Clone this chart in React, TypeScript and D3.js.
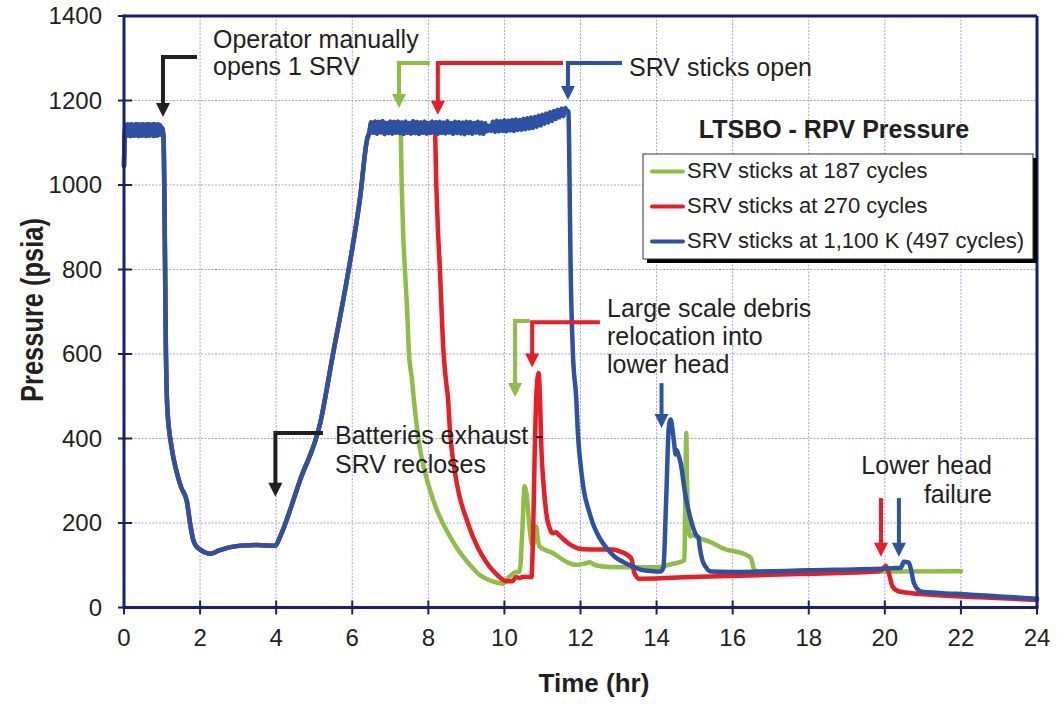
import React from "react";
import * as d3 from "d3";

type Pt = [number, number];

// ---- data (time in hours, pressure in psia) ----
const sharedStart: Pt[] = [
  [0, 1045], [0.025, 1128], [0.05, 1142], [0.075, 1117], [0.1, 1143], [0.125, 1118], [0.15, 1142],
  [0.175, 1116], [0.2, 1144], [0.225, 1118], [0.25, 1141], [0.275, 1117], [0.3, 1143], [0.325, 1119],
  [0.35, 1144], [0.375, 1116], [0.4, 1142], [0.425, 1118], [0.45, 1143], [0.475, 1117], [0.5, 1144],
  [0.525, 1119], [0.55, 1142], [0.575, 1116], [0.6, 1143], [0.625, 1118], [0.65, 1144], [0.675, 1117],
  [0.7, 1142], [0.725, 1119], [0.75, 1143], [0.775, 1116], [0.8, 1144], [0.825, 1118], [0.85, 1142],
  [0.875, 1117], [0.9, 1143], [0.925, 1119], [0.95, 1141], [0.975, 1122], [1.0, 1135],
  [1.04, 1110], [1.07, 900], [1.1, 620], [1.14, 470], [1.25, 380], [1.39, 319],
  [1.5, 285], [1.65, 252], [1.75, 192], [1.82, 160], [1.9, 145], [2.0, 137], [2.2, 128],
  [2.26, 127], [2.5, 135], [2.8, 143], [3.13, 147], [3.5, 148], [3.98, 146], [4.1, 167],
  [4.63, 302], [5.16, 437], [5.5, 603], [5.86, 776], [6.21, 973], [6.39, 1108], [6.45, 1125],
  [6.5, 1148], [6.55, 1124], [6.6, 1150], [6.65, 1122], [6.7, 1149], [6.75, 1125], [6.8, 1151],
  [6.85, 1121], [6.9, 1147], [6.95, 1123], [7.0, 1150], [7.05, 1122], [7.1, 1149], [7.15, 1124],
  [7.2, 1150],
];
const bandToRed: Pt[] = [
  [7.25, 1123], [7.3, 1148], [7.35, 1121], [7.4, 1150], [7.45, 1124], [7.5, 1147], [7.55, 1122],
  [7.6, 1151], [7.65, 1123], [7.7, 1149], [7.75, 1121], [7.8, 1148], [7.85, 1124], [7.9, 1150],
  [7.95, 1122], [8.0, 1147], [8.05, 1123], [8.1, 1150], [8.15, 1124],
];
const bandToBlue: Pt[] = [
  [8.2, 1149], [8.25, 1121], [8.3, 1150], [8.35, 1123], [8.4, 1148], [8.45, 1122], [8.5, 1151],
  [8.55, 1124], [8.6, 1147], [8.65, 1121], [8.7, 1150], [8.75, 1123], [8.8, 1149], [8.85, 1122],
  [8.9, 1148], [8.95, 1120], [9.0, 1150], [9.05, 1123], [9.1, 1149], [9.15, 1121], [9.2, 1147],
  [9.25, 1124], [9.3, 1150], [9.35, 1122], [9.4, 1148], [9.45, 1121], [9.5, 1146], [9.55, 1127],
  [9.6, 1140], [9.65, 1128], [9.7, 1150], [9.75, 1126], [9.8, 1152], [9.85, 1127], [9.9, 1151],
  [9.95, 1128], [10.0, 1153], [10.05, 1127], [10.1, 1152], [10.15, 1129], [10.2, 1154],
  [10.25, 1128], [10.3, 1155], [10.35, 1130], [10.4, 1154], [10.45, 1131], [10.5, 1157],
  [10.55, 1132], [10.6, 1158], [10.65, 1134], [10.7, 1160], [10.75, 1135], [10.8, 1161],
  [10.85, 1138], [10.9, 1164], [10.95, 1141], [11.0, 1166], [11.05, 1145], [11.1, 1169],
  [11.15, 1148], [11.2, 1172], [11.25, 1152], [11.3, 1175], [11.35, 1156], [11.4, 1178],
  [11.45, 1160], [11.5, 1181], [11.55, 1163], [11.6, 1182], [11.65, 1172],
];
const greenTail: Pt[] = [
  [7.27, 1135], [7.3, 1000], [7.34, 880], [7.38, 808], [7.45, 690], [7.49, 603], [7.57, 540],
  [7.62, 492], [7.77, 381], [7.9, 325], [8.04, 279], [8.25, 225], [8.47, 184], [8.7, 148],
  [8.91, 121], [9.1, 100], [9.35, 77], [9.6, 65], [9.8, 59], [9.96, 56], [10.09, 70],
  [10.2, 78], [10.27, 83], [10.4, 85], [10.47, 180], [10.53, 287], [10.58, 270], [10.65, 200],
  [10.72, 150], [10.76, 148], [10.8, 178], [10.84, 192], [10.88, 160], [10.92, 145],
  [11.1, 135], [11.27, 129], [11.5, 115], [11.7, 105], [11.89, 101], [12.1, 104], [12.24, 107],
  [12.4, 100], [12.76, 96], [13.5, 95], [14.07, 96], [14.4, 103], [14.73, 111], [14.76, 300],
  [14.78, 413], [14.8, 300], [14.86, 175], [14.89, 168], [14.95, 171], [15.1, 165],
  [15.39, 156], [15.83, 137], [16.1, 132], [16.35, 125], [16.48, 117], [16.57, 89], [16.7, 85],
  [19, 84], [20, 85], [22, 86],
];
const redTail: Pt[] = [
  [8.17, 1135], [8.21, 1000], [8.25, 900], [8.3, 808], [8.4, 603], [8.46, 540], [8.52, 492],
  [8.56, 430], [8.7, 320], [8.82, 263], [9.0, 210], [9.17, 168], [9.4, 125], [9.61, 97],
  [9.8, 78], [10.05, 62], [10.2, 62], [10.31, 72], [10.4, 70], [10.5, 73], [10.71, 72],
  [10.76, 200], [10.8, 380], [10.85, 520], [10.9, 555], [10.94, 480], [10.97, 381],
  [11.03, 290], [11.1, 224], [11.2, 185], [11.27, 176], [11.35, 178], [11.45, 170],
  [11.71, 150], [12.06, 138], [12.5, 137], [12.85, 137], [13.03, 133], [13.33, 117],
  [13.42, 81], [13.55, 68], [15.13, 73], [17.75, 79], [19.85, 86], [19.95, 92], [20.03, 99],
  [20.11, 80], [20.2, 50], [20.38, 38], [21.24, 30], [22.5, 24], [24, 18],
];
const blueTail: Pt[] = [
  [11.68, 1175], [11.7, 1100], [11.72, 950], [11.74, 808], [11.8, 603], [11.89, 492],
  [11.93, 414], [12.0, 340], [12.1, 271], [12.2, 235], [12.36, 191], [12.5, 165], [12.72, 137],
  [12.9, 120], [13.16, 106], [13.4, 96], [13.6, 89], [13.9, 86], [14.1, 85], [14.18, 95],
  [14.25, 250], [14.32, 425], [14.37, 445], [14.42, 420], [14.46, 390], [14.5, 362],
  [14.53, 372], [14.56, 365], [14.63, 343], [14.75, 270], [14.9, 208], [15.05, 170],
  [15.1, 166], [15.14, 140], [15.2, 113], [15.3, 95], [15.42, 85], [16, 84], [18, 88],
  [20.2, 93], [20.42, 94], [20.5, 108], [20.63, 106], [20.7, 85], [20.76, 59], [20.95, 38],
  [21.5, 34], [22.18, 31], [23, 26], [24, 21],
];

const seriesNames = [
  "SRV sticks at 187 cycles",
  "SRV sticks at 270 cycles",
  "SRV sticks at 1,100 K (497 cycles)",
];
const xTicks = [0, 2, 4, 6, 8, 10, 12, 14, 16, 18, 20, 22, 24];
const yTicks = [0, 200, 400, 600, 800, 1000, 1200, 1400];

const greenData = [...sharedStart, ...greenTail];
const redData = [...sharedStart, ...bandToRed, ...redTail];
const blueData = [...sharedStart, ...bandToRed, ...bandToBlue, ...blueTail];

const COLORS = ["#8fbe45", "#ec1c24", "#2e52a3"];
const NAVY = "#1b1f6e";
const TXT = "#231f20";
const FONT = "'Liberation Sans', Arial, Helvetica, sans-serif";

// arrow geometry in data coordinates (polyline ending at tip)
const arrows: { color: string; pts: Pt[] }[] = [
  { color: TXT, pts: [[1.92, 1303], [1.025, 1303], [1.025, 1161]] },
  { color: TXT, pts: [[5.23, 413], [3.98, 413], [3.98, 262]] },
  { color: COLORS[0], pts: [[8.04, 1289], [7.23, 1289], [7.23, 1182]] },
  { color: COLORS[1], pts: [[11.54, 1289], [8.25, 1289], [8.25, 1166]] },
  { color: COLORS[2], pts: [[13.09, 1289], [11.67, 1289], [11.67, 1201]] },
  { color: COLORS[0], pts: [[10.67, 678], [10.28, 678], [10.28, 498]] },
  { color: COLORS[1], pts: [[12.51, 675], [10.73, 675], [10.73, 568]] },
  { color: COLORS[2], pts: [[14.13, 531], [14.13, 425]] },
  { color: COLORS[1], pts: [[19.9, 259], [19.9, 120]] },
  { color: COLORS[2], pts: [[20.37, 259], [20.37, 120]] },
];

export default function App() {
  const x = d3.scaleLinear().domain([0, 24]).range([124, 1037]);
  const y = d3.scaleLinear().domain([0, 1400]).range([607.5, 16]);
  const line = d3
    .line<Pt>()
    .x((d) => x(d[0]))
    .y((d) => y(d[1]))
    .curve(d3.curveMonotoneX);

  const series = [greenData, redData, blueData];

  const headH = 14;
  const headW = 7;

  return (
    <div style={{ position: "absolute", left: 0, top: 0 }}>
      <svg width={1057} height={704} style={{ display: "block", background: "#fff" }}>
        {/* grid */}
        <g stroke="#a3a3da" strokeWidth={1} strokeDasharray="2,1.5">
          {xTicks.slice(1, -1).map((t) => (
            <line key={"gx" + t} x1={x(t)} x2={x(t)} y1={y(1400)} y2={y(0)} />
          ))}
          {yTicks.slice(1, -1).map((v) => (
            <line key={"gy" + v} x1={x(0)} x2={x(24)} y1={y(v)} y2={y(v)} />
          ))}
        </g>

        {/* series */}
        {series.map((s, i) => (
          <path
            key={"s" + i}
            d={line(s) || ""}
            fill="none"
            stroke={COLORS[i]}
            strokeWidth={4.5}
            strokeLinejoin="round"
            strokeLinecap="round"
          />
        ))}

        {/* frame */}
        <line x1={x(0)} x2={x(24)} y1={y(1400)} y2={y(1400)} stroke={NAVY} strokeWidth={3} />
        <line x1={x(24)} x2={x(24)} y1={y(1400)} y2={y(0)} stroke={NAVY} strokeWidth={3} />
        <line x1={x(0)} x2={x(0)} y1={y(1400) - 1.5} y2={y(0)} stroke={NAVY} strokeWidth={3} />
        <line x1={x(0) - 1.5} x2={x(24) + 1.5} y1={y(0)} y2={y(0)} stroke={NAVY} strokeWidth={3} />

        {/* ticks */}
        <g stroke={NAVY} strokeWidth={2}>
          {yTicks.map((v) => (
            <line key={"ty" + v} x1={x(0) - 6} x2={x(0) + 8} y1={y(v)} y2={y(v)} />
          ))}
          {xTicks.map((t) => (
            <line key={"tx" + t} x1={x(t)} x2={x(t)} y1={y(0) - 7} y2={y(0) + 7} />
          ))}
        </g>

        {/* tick labels */}
        <g fontFamily={FONT} fontSize={24} fill={TXT}>
          {yTicks.map((v) => (
            <text key={"ly" + v} x={102} y={y(v) + 8} textAnchor="end">
              {v}
            </text>
          ))}
          {xTicks.map((t) => (
            <text key={"lx" + t} x={x(t)} y={646} textAnchor="middle">
              {t}
            </text>
          ))}
        </g>

        {/* axis titles */}
        <text
          x={594}
          y={692}
          textAnchor="middle"
          fontFamily={FONT}
          fontWeight="bold"
          fontSize={26}
          fill={TXT}
        >
          Time (hr)
        </text>
        <text
          transform="translate(43,310) rotate(-90)"
          textAnchor="middle"
          fontFamily={FONT}
          fontWeight="bold"
          fontSize={31}
          fill={TXT}
          textLength={184}
          lengthAdjust="spacingAndGlyphs"
        >
          Pressure (psia)
        </text>

        {/* arrows */}
        {arrows.map((a, i) => {
          const pts = a.pts.map((p) => [x(p[0]), y(p[1])] as [number, number]);
          const tip = pts[pts.length - 1];
          const linePts = pts.slice(0, -1).concat([[tip[0], tip[1] - headH + 2]]);
          return (
            <g key={"a" + i}>
              <polyline
                points={linePts.map((p) => p.join(",")).join(" ")}
                fill="none"
                stroke={a.color}
                strokeWidth={4}
              />
              <polygon
                points={`${tip[0]},${tip[1]} ${tip[0] - headW},${tip[1] - headH} ${tip[0] + headW},${tip[1] - headH}`}
                fill={a.color}
              />
            </g>
          );
        })}

        {/* annotations */}
        <g fontFamily={FONT} fontSize={25} fill={TXT}>
          <text x={213} y={48}>Operator manually</text>
          <text x={213} y={75}>opens 1 SRV</text>
          <text x={629} y={76}>SRV sticks open</text>
          <text x={335} y={444}>Batteries exhaust -</text>
          <text x={335} y={473}>SRV recloses</text>
          <text x={607} y={317}>Large scale debris</text>
          <text x={607} y={345}>relocation into</text>
          <text x={607} y={373}>lower head</text>
          <text x={992} y={474} textAnchor="end">Lower head</text>
          <text x={992} y={503} textAnchor="end">failure</text>
        </g>

        {/* chart title */}
        <text
          x={834}
          y={138}
          textAnchor="middle"
          fontFamily={FONT}
          fontWeight="bold"
          fontSize={25}
          fill={TXT}
        >
          LTSBO - RPV Pressure
        </text>

        {/* legend */}
        <rect x={647} y={158} width={390} height={105} fill="#000" />
        <rect x={643} y={154} width={390} height={105} fill="#fff" stroke="#333" strokeWidth={1} />
        {seriesNames.map((n, i) => (
          <g key={"lg" + i}>
            <line
              x1={652}
              x2={683}
              y1={171.5 + i * 35}
              y2={171.5 + i * 35}
              stroke={COLORS[i]}
              strokeWidth={4}
              strokeLinecap="round"
            />
            <text x={687} y={178 + i * 35} fontFamily={FONT} fontSize={22} fill={TXT}>
              {n}
            </text>
          </g>
        ))}
      </svg>
    </div>
  );
}
